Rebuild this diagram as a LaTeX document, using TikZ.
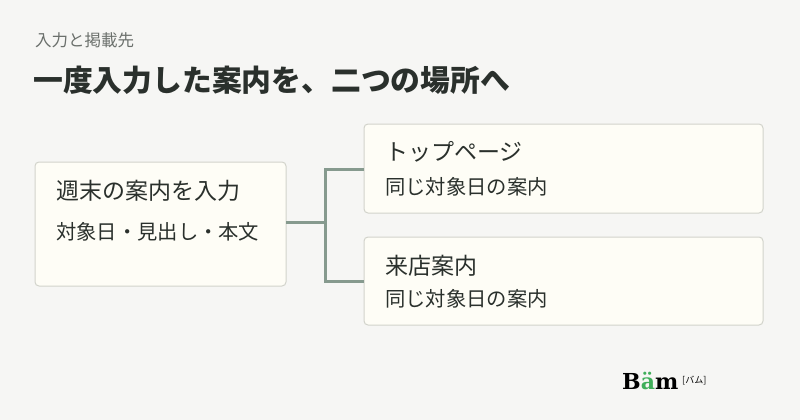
\documentclass[tikz,border=0pt]{standalone}
\usepackage{fontspec}
\setmainfont{Noto Sans CJK JP}
\newfontfamily\logofont{DejaVu Serif}
\definecolor{bg}{HTML}{F6F6F4}
\definecolor{boxfill}{HTML}{FEFDF6}
\definecolor{boxline}{HTML}{D2D3CB}
\definecolor{conn}{HTML}{869A8E}
\definecolor{ink}{HTML}{2A302C}
\definecolor{sub}{HTML}{6B706C}
\definecolor{bamgreen}{HTML}{3FAE5A}
\begin{document}
\begin{tikzpicture}[x=1pt,y=-1pt,
  card/.style={draw=boxline,fill=boxfill,line width=1pt,rounded corners=4pt},
  head/.style={anchor=west,inner sep=0pt,text=ink,font=\fontsize{23}{26}\selectfont},
  body/.style={anchor=west,inner sep=0pt,text=ink,font=\fontsize{20.3}{23}\selectfont},
  link/.style={draw=conn,line width=3pt}]
\useasboundingbox[fill=bg] (0,0) rectangle (800,420);
\node[anchor=west,inner sep=0pt,text=sub,font=\fontsize{16.5}{19}\selectfont] (kicker) at (35,40) {入力と掲載先};
\node[anchor=west,inner sep=0pt,text=ink,font=\fontsize{29.8}{34}\selectfont\bfseries] (title) at (33,80) {一度入力した案内を、二つの場所へ};
\draw[card] (35,162) rectangle (286,286);
\coordinate (lb) at (286,222);
\draw[card] (364,124) rectangle (763,213);
\coordinate (rb1) at (364,169);
\draw[card] (364,237) rectangle (763,325);
\coordinate (rb2) at (364,281);
\node[head] (t1) at (56,191) {週末の案内を入力};
\node[body] (b1) at (56,232) {対象日・見出し・本文};
\node[head] (t2) at (385,152) {トップページ};
\node[body] (b2) at (385,187) {同じ対象日の案内};
\node[head] (t3) at (385,266) {来店案内};
\node[body] (b3) at (385,299) {同じ対象日の案内};
\coordinate (j) at (325,222);
\draw[link] (lb) -- (j);
\draw[link] (rb1) -| (j) |- (rb2);
\node[anchor=west,inner sep=0pt,font=\logofont\bfseries\fontsize{22}{24}\selectfont] (logo) at (622,381) {B\textcolor{bamgreen}{ä}m};
\node[anchor=west,inner sep=0pt,font=\fontsize{9}{10}\selectfont] (logosub) at (682,381) {[バム]};
\end{tikzpicture}
\end{document}
